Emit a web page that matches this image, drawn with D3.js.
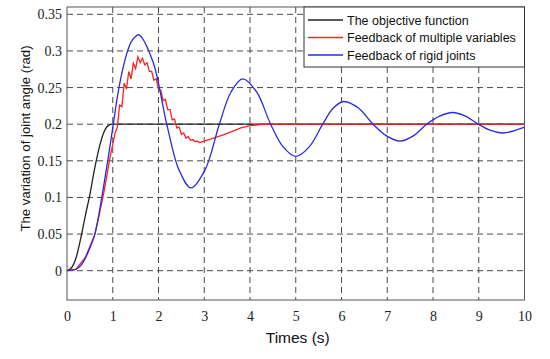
<!DOCTYPE html>
<html>
<head>
<meta charset="utf-8">
<script src="https://cdn.jsdelivr.net/npm/d3@7"></script>
<style>
  body { margin: 0; background: #fff; }
</style>
</head>
<body>
<svg id="chart" width="550" height="359"></svg>
<script>
'use strict';

// objective function (time, rad)
var objT = [0, 0.1, 0.2, 0.3, 0.4, 0.5, 0.6, 0.7, 0.8, 0.9, 1.0, 10];
var objV = [0, 0.004, 0.018, 0.044, 0.075, 0.104, 0.138, 0.167, 0.188, 0.198, 0.2, 0.2];

// feedback of multiple variables
var mvT = [0, 0.2, 0.4, 0.6, 0.7, 0.8, 0.9, 0.95,
  1.00, 1.05, 1.10, 1.15, 1.20, 1.25, 1.30, 1.35, 1.40, 1.45, 1.50, 1.55, 1.60, 1.65, 1.70, 1.75,
  1.80, 1.85, 1.90, 1.95, 2.00, 2.05, 2.10, 2.15, 2.20, 2.25, 2.30, 2.35, 2.40, 2.45, 2.50, 2.55,
  2.60, 2.65, 2.70, 2.75, 2.80, 2.85, 2.90, 2.95, 3.00, 3.10, 3.20, 3.40, 3.60, 3.80, 4.00, 4.30, 10];
var mvV = [0, 0.002, 0.018, 0.048, 0.075, 0.105, 0.14, 0.158,
  0.172, 0.188, 0.196, 0.226, 0.224, 0.256, 0.248, 0.272, 0.262, 0.283, 0.276, 0.292, 0.284, 0.290, 0.281, 0.284,
  0.272, 0.272, 0.260, 0.262, 0.248, 0.246, 0.232, 0.234, 0.220, 0.220, 0.206, 0.207, 0.195, 0.196, 0.186, 0.188,
  0.181, 0.183, 0.178, 0.179, 0.176, 0.177, 0.175, 0.176, 0.177, 0.179, 0.181, 0.185, 0.190, 0.195, 0.198, 0.200, 0.200];

// feedback of rigid joints
var rjT = [0, 0.2, 0.3, 0.4, 0.5, 0.61, 0.76, 0.89, 1.0, 1.1, 1.2, 1.3, 1.4, 1.5, 1.57, 1.875, 2.18, 2.445,
  2.71, 3.02, 3.33, 3.585, 3.84, 4.145, 4.45, 4.725, 5.0, 5.295, 5.59, 5.82, 6.05, 6.37, 6.69,
  6.985, 7.28, 7.57, 7.86, 8.145, 8.43, 8.71, 8.99, 9.26, 9.53, 10];
var rjV = [0, 0.002, 0.007, 0.017, 0.031, 0.05, 0.1, 0.15, 0.195, 0.237, 0.27, 0.295, 0.312, 0.32, 0.322, 0.286, 0.2, 0.138,
  0.113, 0.138, 0.2, 0.244, 0.262, 0.244, 0.2, 0.169, 0.156, 0.169, 0.2, 0.222, 0.231, 0.222, 0.2,
  0.184, 0.177, 0.184, 0.2, 0.211, 0.216, 0.211, 0.2, 0.1915, 0.188, 0.196];

var xTicks = [0, 1, 2, 3, 4, 5, 6, 7, 8, 9, 10];
var yTicks = [0, 0.05, 0.1, 0.15, 0.2, 0.25, 0.3, 0.35];

var legendNames = ['The objective function', 'Feedback of multiple variables', 'Feedback of rigid joints'];
var colors = ['#222222', '#ff2020', '#2a2adf'];

var plotL = 67, plotR = 524.5, plotT = 7, plotB = 300;
var serif = '"Liberation Serif", "Times New Roman", "DejaVu Serif", serif';
var sans = '"Liberation Sans", Arial, sans-serif';

var svg = d3.select('#chart');

var x = d3.scaleLinear().domain([0, 10]).range([plotL, plotR]);
var y = d3.scaleLinear().domain([-0.04, 0.36]).range([plotB, plotT]);

// grid
var grid = svg.append('g')
    .attr('stroke', '#4a4a4a')
    .attr('stroke-width', 1)
    .attr('stroke-dasharray', '6,4');
grid.selectAll('line.vx').data(xTicks.slice(1, -1)).enter().append('line')
    .attr('x1', function (d) { return x(d); }).attr('x2', function (d) { return x(d); })
    .attr('y1', plotT).attr('y2', plotB);
grid.selectAll('line.hy').data(yTicks).enter().append('line')
    .attr('x1', plotL).attr('x2', plotR)
    .attr('y1', function (d) { return y(d); }).attr('y2', function (d) { return y(d); });

// axes (labels only)
var xAxis = svg.append('g')
    .attr('transform', 'translate(0,' + plotB + ')')
    .call(d3.axisBottom(x).tickValues(xTicks).tickSize(0).tickPadding(11).tickFormat(d3.format('d')));
var yAxis = svg.append('g')
    .attr('transform', 'translate(' + plotL + ',0)')
    .call(d3.axisLeft(y).tickValues(yTicks).tickSize(0).tickPadding(5)
        .tickFormat(function (d) { return d === 0 ? '0' : String(+d.toFixed(2)); }));
[xAxis, yAxis].forEach(function (a) {
    a.select('.domain').remove();
    a.selectAll('.tick text')
        .style('font-family', serif)
        .style('font-size', '14px')
        .attr('fill', '#222');
});

// lines
var series = [
    { t: objT, v: objV, curve: d3.curveMonotoneX },
    { t: mvT, v: mvV, curve: d3.curveLinear },
    { t: rjT, v: rjV, curve: d3.curveCatmullRom }
];
series.forEach(function (s, i) {
    var pts = s.t.map(function (t, j) { return [t, s.v[j]]; });
    var line = d3.line()
        .x(function (d) { return x(d[0]); })
        .y(function (d) { return y(d[1]); })
        .curve(s.curve);
    svg.append('path')
        .datum(pts)
        .attr('d', line)
        .attr('fill', 'none')
        .attr('stroke', colors[i])
        .attr('stroke-width', 1.3);
});

// frame
svg.append('rect')
    .attr('x', plotL).attr('y', plotT)
    .attr('width', plotR - plotL).attr('height', plotB - plotT)
    .attr('fill', 'none').attr('stroke', '#555').attr('stroke-width', 1);

// legend
var lg = svg.append('g');
lg.append('rect')
    .attr('x', 304).attr('y', plotT).attr('width', plotR - 304).attr('height', 60)
    .attr('fill', '#fff').attr('stroke', '#333').attr('stroke-width', 1);
legendNames.forEach(function (name, i) {
    var ly = 20 + i * 17.5;
    lg.append('line')
        .attr('x1', 308).attr('x2', 343).attr('y1', ly).attr('y2', ly)
        .attr('stroke', colors[i]).attr('stroke-width', 1.3);
    lg.append('text')
        .attr('x', 347).attr('y', ly + 4.5)
        .style('font-family', sans)
        .style('font-size', '12.5px')
        .attr('fill', '#111')
        .text(name);
});

// axis titles
svg.append('text')
    .attr('x', (plotL + plotR) / 2 + 2).attr('y', 343)
    .attr('text-anchor', 'middle')
    .style('font-family', sans)
    .style('font-size', '15.5px')
    .attr('fill', '#111')
    .text('Times (s)');
svg.append('text')
    .attr('transform', 'translate(29.5,138.5) rotate(-90)')
    .attr('text-anchor', 'middle')
    .style('font-family', sans)
    .style('font-size', '13.2px')
    .attr('fill', '#111')
    .text('The variation of joint angle (rad)');
</script>
</body>
</html>
